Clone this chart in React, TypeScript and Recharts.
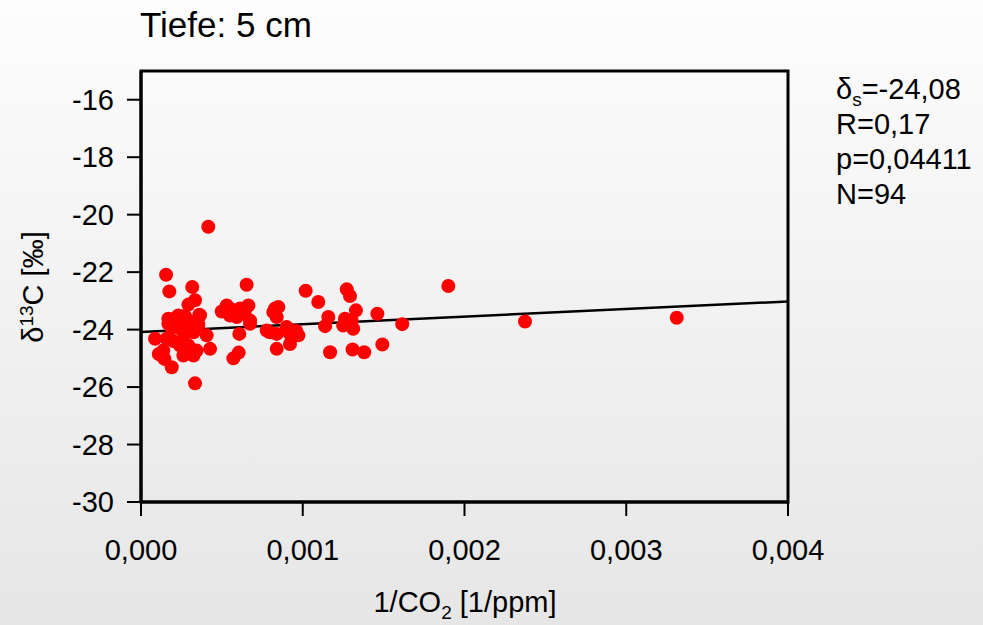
import React from "react"
import {
  ScatterChart,
  Scatter,
  XAxis,
  YAxis,
  ReferenceLine,
  ReferenceArea,
} from "recharts"

// 1/CO2 [1/ppm] and δ13C [‰] (N = 94)
const co2Inv = [
  0.000087, 0.000128, 0.000138, 0.000145, 0.000155, 0.000159, 0.000169, 0.000169,
  0.000175, 0.000179, 0.00019, 0.000221, 0.000231, 0.000241, 0.000241, 0.000262,
  0.000272, 0.000283, 0.000293, 0.000293, 0.000303, 0.000313, 0.000317, 0.000325,
  0.000325, 0.000334, 0.000334, 0.000344, 0.000354, 0.000354, 0.00036, 0.000365,
  0.000406, 0.000416, 0.000427, 0.0002, 0.00025, 0.00028, 0.00011,
  0.000499, 0.00053, 0.00053, 0.00055, 0.000571, 0.000581, 0.000592, 0.000604,
  0.000608, 0.000612, 0.000653, 0.000664, 0.000674, 0.000674, 0.000797, 0.000818,
  0.000828, 0.000839, 0.000839, 0.000839, 0.000849, 0.0009, 0.00091, 0.000921,
  0.000921, 0.000942, 0.000973, 0.000777, 0.00096, 0.00056, 0.00064,
  0.001018, 0.001096, 0.001138, 0.001158, 0.001169, 0.00125, 0.001261, 0.001272,
  0.001292, 0.001302, 0.001308, 0.001312, 0.001329, 0.00138, 0.001461, 0.001492,
  0.001615, 0.0019, 0.002374, 0.003312, 0.00128, 0.00019, 0.00026, 0.0003,
]
const d13c = [
  -24.32, -24.9, -24.73, -25.02, -22.09, -24.32, -23.62, -23.8,
  -22.67, -23.7, -25.31, -23.56, -23.51, -23.8, -24.55, -24.9,
  -23.53, -24.6, -23.13, -24.55, -23.91, -23.74, -22.52, -24.09,
  -24.9, -22.98, -25.87, -24.73, -23.8, -23.86, -23.48, -23.5,
  -24.2, -20.42, -24.67, -24.4, -24.0, -23.7, -24.85,
  -23.37, -23.16, -23.21, -23.51, -25.0, -23.39, -23.56, -24.8,
  -24.15, -23.27, -22.44, -23.16, -23.68, -23.8, -24.09, -23.39,
  -23.27, -23.56, -24.15, -24.67, -23.21, -23.91, -23.97, -24.15,
  -24.5, -24.2, -24.2, -24.03, -24.05, -23.3, -23.4,
  -22.65, -23.04, -23.88, -23.56, -24.79, -23.86, -23.62, -22.6,
  -22.83, -23.68, -24.69, -23.97, -23.33, -24.79, -23.45, -24.52,
  -23.81, -22.48, -23.72, -23.59, -23.75, -23.95, -24.35, -24.75,
]

// regression line end points
const fitX = [0, 0.004]
const fitY = [-24.08, -23.02]

const xTicks = [0, 0.001, 0.002, 0.003, 0.004]
const yTicks = [-30, -28, -26, -24, -22, -20, -18, -16]
const stats = ["=-24,08", "R=0,17", "p=0,04411", "N=94"]

const points = co2Inv.map((x, i) => ({ x, y: d13c[i] }))
const font = "'Liberation Sans', Arial, sans-serif"
const tickStyle = { fill: "#000", fontSize: 29, fontFamily: font }

const Dot = (p: any) => <circle cx={p.cx} cy={p.cy} r={7} fill="#ff0000" />

export default function App() {
  return (
    <div
      style={{
        position: "absolute",
        left: 0,
        top: 0,
        width: 983,
        height: 625,
        background: "linear-gradient(#fdfdfd, #e6e6e6)",
        fontFamily: font,
        color: "#000",
      }}
    >
      <div style={{ position: "absolute", left: 140, top: 5, fontSize: 35 }}>
        Tiefe: 5 cm
      </div>

      <ScatterChart
        width={983}
        height={625}
        margin={{ top: 71, right: 195, bottom: 0, left: 0 }}
      >
        <XAxis
          type="number"
          dataKey="x"
          domain={[0, 0.004]}
          ticks={xTicks}
          tickFormatter={(v: number) => v.toFixed(3).replace(".", ",")}
          tick={tickStyle}
          tickSize={14}
          tickMargin={23}
          height={123}
          axisLine={{ stroke: "#000", strokeWidth: 3 }}
          tickLine={{ stroke: "#000", strokeWidth: 2 }}
        />
        <YAxis
          type="number"
          dataKey="y"
          domain={[-30, -15]}
          ticks={yTicks}
          tick={tickStyle}
          tickSize={14}
          tickMargin={13}
          width={141}
          axisLine={{ stroke: "#000", strokeWidth: 3 }}
          tickLine={{ stroke: "#000", strokeWidth: 2 }}
        />
        <ReferenceArea
          x1={0}
          x2={0.004}
          y1={-30}
          y2={-15}
          fill="none"
          stroke="#000"
          strokeWidth={3}
          ifOverflow="visible"
        />
        <ReferenceLine
          segment={[
            { x: fitX[0], y: fitY[0] },
            { x: fitX[1], y: fitY[1] },
          ]}
          stroke="#000"
          strokeWidth={2.5}
          ifOverflow="visible"
        />
        <Scatter data={points} shape={Dot} isAnimationActive={false} />
      </ScatterChart>

      <div
        style={{
          position: "absolute",
          left: 33,
          top: 287,
          transform: "translate(-50%, -50%) rotate(-90deg)",
          fontSize: 29,
          whiteSpace: "nowrap",
        }}
      >
        δ<sup style={{ fontSize: 19 }}>13</sup>C [‰]
      </div>

      <div
        style={{
          position: "absolute",
          left: 465,
          top: 586,
          transform: "translateX(-50%)",
          fontSize: 29,
          whiteSpace: "nowrap",
        }}
      >
        1/CO<sub style={{ fontSize: 19 }}>2</sub> [1/ppm]
      </div>

      <div
        style={{
          position: "absolute",
          left: 836,
          top: 72,
          fontSize: 29,
          lineHeight: "35px",
        }}
      >
        {stats.map((s, i) => (
          <div key={i}>
            {i === 0 && (
              <>
                δ<sub style={{ fontSize: 19, lineHeight: 0 }}>s</sub>
              </>
            )}
            {s}
          </div>
        ))}
      </div>
    </div>
  )
}
